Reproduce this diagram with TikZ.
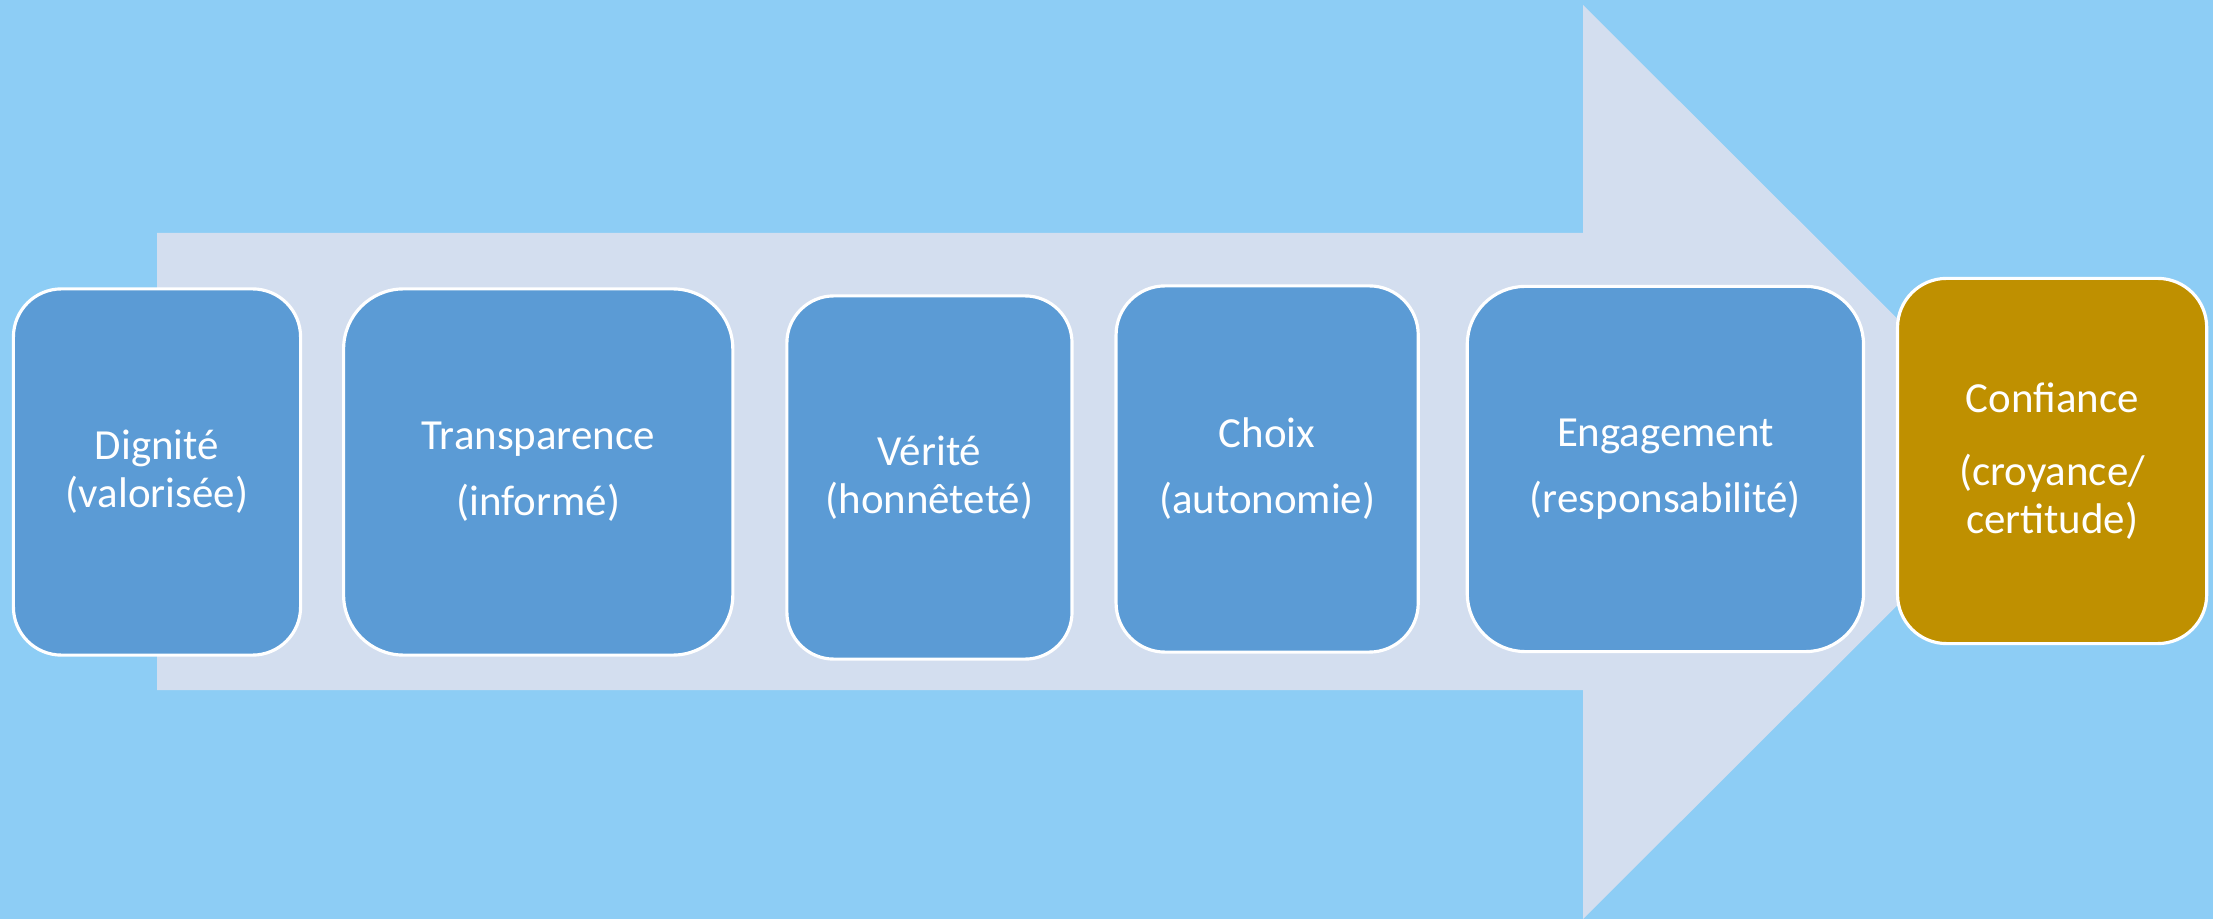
\documentclass[tikz,border=0pt]{standalone}
\usepackage{fontspec}
\setmainfont{Carlito}
\usepackage{xcolor}
\usetikzlibrary{positioning}
\definecolor{skyback}{HTML}{8DCDF5}
\definecolor{arrowfill}{HTML}{D3DEEF}
\definecolor{stepblue}{HTML}{5B9BD5}
\definecolor{goldbox}{HTML}{BF9000}

\begin{document}
\begin{tikzpicture}[x=0.01cm, y=-0.01cm,
	valbox/.style={rectangle, draw=white, line width=0.9pt, fill=stepblue, text=white, align=center, inner sep=0pt, outer sep=0pt, font=\fontsize{12.2}{13.6}\selectfont},
	goalbox/.style={valbox, fill=goldbox},
	]
		%Background and arrow
		\useasboundingbox (0,0) rectangle (2213,919);
		\fill[skyback] (0,0) rectangle (2213,919);
		\fill[arrowfill] (157,233) -- (1583,233) -- (1583,5) -- (2041,462) -- (1583,919) -- (1583,690) -- (157,690) -- cycle;

		%Nodes
		\node[valbox, minimum width=2.87cm, minimum height=3.66cm, rounded corners=0.48cm]  (Dignite)      at (157,472)                          {Dignité\\(valorisée)};
		\node[valbox, minimum width=3.89cm, minimum height=3.66cm, rounded corners=0.6cm]   (Transparence) [right=0.43cm of Dignite]             {Transparence\\[0.18cm](informé)};
		\node[valbox, minimum width=2.85cm, minimum height=3.63cm, rounded corners=0.47cm]  (Verite)       [right=0.54cm of Transparence, yshift=-0.055cm] {Vérité\\(honnêteté)};
		\node[valbox, minimum width=3.02cm, minimum height=3.66cm, rounded corners=0.49cm]  (Choix)        [right=0.44cm of Verite, yshift=0.085cm]   {Choix\\[0.18cm](autonomie)};
		\node[valbox, minimum width=3.96cm, minimum height=3.65cm, rounded corners=0.58cm]  (Engagement)   [right=0.49cm of Choix]               {Engagement\\[0.18cm](responsabilité)};
		\node[goalbox, minimum width=3.09cm, minimum height=3.65cm, rounded corners=0.49cm] (Confiance)    [right=0.34cm of Engagement, yshift=0.08cm] {Confiance\\[0.25cm](croyance/\\certitude)};
	\end{tikzpicture}
\end{document}
